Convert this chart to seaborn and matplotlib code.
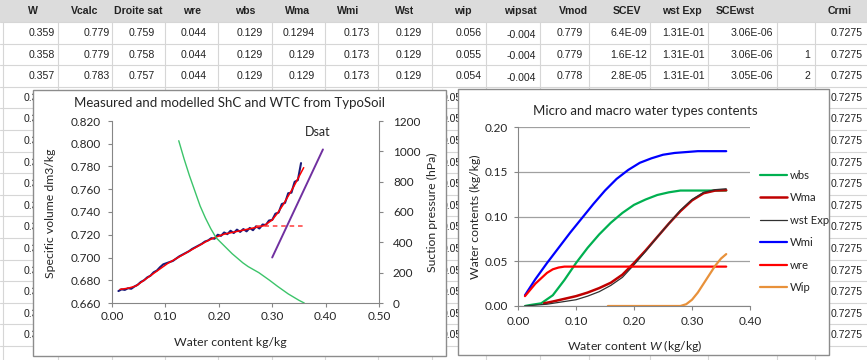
import pandas as pd
import seaborn as sns
import matplotlib.pyplot as plt
from matplotlib.patches import Rectangle
from matplotlib.ticker import FormatStrFormatter

sns.set_style('white')
plt.rcParams['font.family'] = ['Lato', 'DejaVu Sans']
plt.rcParams['mathtext.fontset'] = 'custom'
plt.rcParams['mathtext.it'] = 'Lato:italic'

# spreadsheet cells behind the charts
headers = ['W', 'Vcalc', 'Droite sat', 'wre', 'wbs', 'Wma', 'Wmi', 'Wst', 'wip',
           'wipsat', 'Vmod', 'SCEV', 'wst Exp', 'SCEwst', '', 'Crmi']
row1 = ['0.359', '0.779', '0.759', '0.044', '0.129', '0.1294', '0.173', '0.129', '0.056',
        '-0.004', '0.779', '6.4E-09', '1.31E-01', '3.06E-06', '', '0.7275']
row2 = ['0.358', '0.779', '0.758', '0.044', '0.129', '0.129', '0.173', '0.129', '0.055',
        '-0.004', '0.779', '1.6E-12', '1.31E-01', '3.06E-06', '1', '0.7275']
row3 = ['0.357', '0.783', '0.757', '0.044', '0.129', '0.129', '0.173', '0.129', '0.054',
        '-0.004', '0.778', '2.8E-05', '1.31E-01', '3.05E-06', '2', '0.7275']
crmi = '0.7275'

# chart 1: measured / modelled shrinkage curve, suction, saturation line
w_meas = [0.012, 0.018, 0.024, 0.030, 0.036, 0.042, 0.048, 0.054, 0.060, 0.066,
          0.072, 0.078, 0.084, 0.090, 0.096, 0.102, 0.108, 0.114, 0.120, 0.126,
          0.132, 0.138, 0.144, 0.150, 0.156, 0.162, 0.168, 0.174, 0.180, 0.186,
          0.192, 0.198, 0.204, 0.210, 0.216, 0.222, 0.228, 0.234, 0.240, 0.246,
          0.252, 0.258, 0.264, 0.270, 0.276, 0.282, 0.288, 0.294, 0.300, 0.306,
          0.312, 0.318, 0.324, 0.330, 0.336, 0.342, 0.348, 0.354]
v_meas = [0.6705, 0.6720, 0.6715, 0.6730, 0.6725, 0.6745, 0.6760, 0.6785, 0.6800, 0.6825,
          0.6840, 0.6870, 0.6885, 0.6915, 0.6940, 0.6950, 0.6960, 0.6970, 0.6990, 0.7010,
          0.7025, 0.7040, 0.7055, 0.7075, 0.7090, 0.7105, 0.7120, 0.7140, 0.7150, 0.7170,
          0.7165, 0.7200, 0.7190, 0.7220, 0.7205, 0.7235, 0.7215, 0.7245, 0.7225, 0.7250,
          0.7230, 0.7260, 0.7240, 0.7275, 0.7255, 0.7290, 0.7285, 0.7325, 0.7330, 0.7385,
          0.7395, 0.7470, 0.7480, 0.7565, 0.7570, 0.7665, 0.7680, 0.7830]
w_mod = [0.015, 0.03, 0.045, 0.06, 0.075, 0.09, 0.105, 0.12, 0.135, 0.15, 0.165, 0.18,
         0.195, 0.21, 0.225, 0.24, 0.255, 0.27, 0.285, 0.30, 0.31, 0.32, 0.33, 0.34,
         0.35, 0.359]
v_mod = [0.672, 0.673, 0.675, 0.680, 0.685, 0.690, 0.695, 0.699, 0.703, 0.707, 0.711,
         0.715, 0.718, 0.7205, 0.722, 0.7235, 0.725, 0.7265, 0.728, 0.733, 0.739, 0.746,
         0.754, 0.762, 0.771, 0.779]
w_crmi = [0.27, 0.36]
w_suction = [0.125, 0.135, 0.145, 0.155, 0.165, 0.175, 0.185, 0.195, 0.205, 0.215,
             0.225, 0.235, 0.245, 0.255, 0.265, 0.275, 0.285, 0.295, 0.31, 0.33, 0.35,
             0.36]
h_suction = [1070, 950, 840, 740, 640, 560, 490, 430, 395, 360, 325, 295, 265, 240, 220,
             200, 175, 150, 110, 60, 18, 0]
w_dsat = [0.30, 0.395]
v_dsat = [0.700, 0.795]

# chart 2: water types
w_mi = [0.012, 0.03, 0.05, 0.07, 0.09, 0.11, 0.13, 0.15, 0.17, 0.19, 0.21, 0.23, 0.25,
        0.27, 0.29, 0.31, 0.33, 0.359]
v_mi = [0.012, 0.030, 0.048, 0.065, 0.082, 0.098, 0.114, 0.129, 0.142, 0.152, 0.160,
        0.165, 0.169, 0.171, 0.172, 0.173, 0.173, 0.173]
w_bs = [0.012, 0.02, 0.04, 0.06, 0.08, 0.10, 0.12, 0.14, 0.16, 0.18, 0.20, 0.22, 0.24,
        0.26, 0.28, 0.30, 0.359]
v_bs = [0.0, 0.001, 0.003, 0.012, 0.029, 0.048, 0.065, 0.080, 0.093, 0.104, 0.113,
        0.119, 0.124, 0.127, 0.129, 0.129, 0.129]
w_ma = [0.045, 0.06, 0.08, 0.10, 0.12, 0.14, 0.16, 0.18, 0.20, 0.22, 0.24, 0.26, 0.28,
        0.30, 0.32, 0.34, 0.359]
v_ma = [0.003, 0.005, 0.008, 0.011, 0.015, 0.020, 0.026, 0.035, 0.048, 0.062, 0.077,
        0.092, 0.106, 0.118, 0.126, 0.129, 0.1294]
w_st = [0.012, 0.03, 0.05, 0.08, 0.10, 0.12, 0.14, 0.16, 0.18, 0.20, 0.22, 0.24, 0.26,
        0.28, 0.30, 0.32, 0.34, 0.359]
v_st = [0.0, 0.001, 0.002, 0.005, 0.007, 0.011, 0.016, 0.023, 0.032, 0.046, 0.061,
        0.077, 0.092, 0.107, 0.119, 0.127, 0.130, 0.131]
w_re = [0.012, 0.03, 0.05, 0.06, 0.07, 0.08, 0.10, 0.359]
v_re = [0.011, 0.025, 0.037, 0.041, 0.043, 0.044, 0.044, 0.044]
w_ip = [0.155, 0.26, 0.28, 0.29, 0.30, 0.31, 0.32, 0.33, 0.34, 0.35, 0.359]
v_ip = [0.0, 0.0, 0.0, 0.002, 0.007, 0.015, 0.025, 0.035, 0.045, 0.053, 0.058]

fig = plt.figure(figsize=(8.67, 3.6), dpi=100)

# ---- background sheet (pixel coordinates)
bg = fig.add_axes([0, 0, 1, 1])
bg.set_xlim(0, 867)
bg.set_ylim(360, 0)
bg.axis('off')
bg.add_patch(Rectangle((0, 0), 867, 22, fc='#dcdcdc', ec='none'))
col_edges = [3, 58, 112, 165, 218, 272, 325, 378, 432, 486, 540, 589, 650, 708, 777, 815]
head_x = [33, 85, 138, 192, 245, 298, 348, 405, 463, 520, 573, 627, 682, 735, 796, 840]
val_x = [55, 110, 155, 207, 263, 315, 370, 422, 482, 536, 583, 647, 705, 773, 810, 863]
for k in range(16):
    y = 22 + 21.6 * k
    bg.plot([0, 867], [y, y], color='#d6d6d6', lw=0.8)
for x in col_edges:
    bg.plot([x, x], [22, 360], color='#d6d6d6', lw=0.8)
tf = dict(family='Liberation Sans', fontsize=7.6, color='#222222', va='center')
for j, h in enumerate(headers):
    bg.text(head_x[j], 11, h, ha='center', fontweight='bold', **tf)
for r, row in enumerate([row1, row2, row3]):
    y = 33 + 21.6 * r
    for j, val in enumerate(row):
        dy = 1.5 if val.startswith('-') else 0
        bg.text(val_x[j], y + dy, val, ha='right', **tf)
for r in range(3, 15):
    y = 33 + 21.6 * r
    bg.text(24, y, '0.35', ha='left', **tf)
    bg.text(442, y, '0.05', ha='left', **tf)
    bg.text(863, y, crmi, ha='right', **tf)

# chart frames
bg.add_patch(Rectangle((33, 90), 413, 266, fc='white', ec='#8c8c8c', lw=1, zorder=5))
bg.add_patch(Rectangle((458, 89), 371, 266, fc='white', ec='#8c8c8c', lw=1, zorder=5))

gray = '#868686'
txt = '#262626'

# ---- left chart
axL = fig.add_axes([112 / 867, 57 / 360, 267 / 867, 182 / 360])
axL.patch.set_alpha(0)
sns.lineplot(x=w_meas, y=v_meas, ax=axL, color='#1c1c7a', lw=1.5, sort=False)
sns.lineplot(x=w_mod, y=v_mod, ax=axL, color='#ff0000', lw=1.1, sort=False)
sns.lineplot(x=w_crmi, y=[float(crmi)] * 2, ax=axL, color='#ff3b3b', lw=1.1,
             dashes=False, linestyle=(0, (3, 2.5)))
sns.lineplot(x=w_dsat, y=v_dsat, ax=axL, color='#7030a0', lw=1.4)
axL.text(0.386, 0.8105, 'Dsat', ha='center', va='center', fontsize=9, color=txt)
axL.set_xlim(0, 0.5)
axL.set_ylim(0.66, 0.82)
axL.set_xticks([0, 0.1, 0.2, 0.3, 0.4, 0.5])
axL.set_yticks([0.66, 0.68, 0.70, 0.72, 0.74, 0.76, 0.78, 0.80, 0.82])
axL.xaxis.set_major_formatter(FormatStrFormatter('%.2f'))
axL.yaxis.set_major_formatter(FormatStrFormatter('%.3f'))
for s in ['top', 'right']:
    axL.spines[s].set_visible(False)
for s in ['left', 'bottom']:
    axL.spines[s].set_color(gray)
axL.tick_params(axis='both', bottom=True, left=True, direction='out', length=3,
                width=0.8, color=gray, labelsize=8.5, labelcolor=txt)
axL.tick_params(axis='x', pad=3)
axL.tick_params(axis='y', pad=5)

axS = axL.twinx()
sns.lineplot(x=w_suction, y=h_suction, ax=axS, color='#3cc46a', lw=1.0, sort=False)
axS.set_ylim(0, 1200)
axS.set_yticks([0, 200, 400, 600, 800, 1000, 1200])
for s in ['top', 'left', 'bottom']:
    axS.spines[s].set_visible(False)
axS.spines['right'].set_color(gray)
axS.tick_params(axis='y', right=True, direction='out', length=3, width=0.8, color=gray,
                labelsize=8.5, labelcolor=txt, pad=7)
axS.set_ylabel('')

fig.text(230 / 867, 1 - 103 / 360, 'Measured and modelled ShC and WTC from TypoSoil',
         ha='center', va='center', fontsize=9.5, color=txt)
fig.text(230 / 867, 1 - 343 / 360, 'Water content kg/kg', ha='center', va='center',
         fontsize=8.8, color=txt)
fig.text(51 / 867, 1 - 213 / 360, 'Specific volume dm3/kg', ha='center', va='center',
         rotation=90, fontsize=8.8, color=txt)
fig.text(432 / 867, 1 - 212 / 360, 'Suction pressure (hPa)', ha='center', va='center',
         rotation=90, fontsize=8.8, color=txt)

# ---- right chart
axM = fig.add_axes([518 / 867, 54 / 360, 232 / 867, 179 / 360])
axM.patch.set_alpha(0)
sns.lineplot(x=w_bs, y=v_bs, ax=axM, color='#00b050', lw=1.6, label='wbs')
sns.lineplot(x=w_ma, y=v_ma, ax=axM, color='#c00000', lw=1.8, label='Wma')
sns.lineplot(x=w_st, y=v_st, ax=axM, color='#303030', lw=0.9, label='wst Exp')
sns.lineplot(x=w_mi, y=v_mi, ax=axM, color='#0000ff', lw=1.6, label='Wmi')
sns.lineplot(x=w_re, y=v_re, ax=axM, color='#ff0000', lw=1.6, label='wre')
sns.lineplot(x=w_ip, y=v_ip, ax=axM, color='#e8913a', lw=1.6, label='Wip')
axM.set_xlim(0, 0.4)
axM.set_ylim(0, 0.2)
axM.set_xticks([0, 0.1, 0.2, 0.3, 0.4])
axM.set_yticks([0, 0.05, 0.10, 0.15, 0.20])
axM.xaxis.set_major_formatter(FormatStrFormatter('%.2f'))
axM.yaxis.set_major_formatter(FormatStrFormatter('%.2f'))
axM.yaxis.grid(True, color='#a0a0a0', lw=0.9)
axM.set_axisbelow(True)
for s in ['top', 'right']:
    axM.spines[s].set_visible(False)
for s in ['left', 'bottom']:
    axM.spines[s].set_color(gray)
axM.tick_params(axis='both', bottom=True, left=True, direction='out', length=3,
                width=0.8, color=gray, labelsize=8.5, labelcolor=txt)
axM.tick_params(axis='x', pad=4)
axM.tick_params(axis='y', pad=4)

handles, labels = axM.get_legend_handles_labels()
axM.legend(handles, labels, loc='upper left', bbox_to_anchor=(760 / 867, 1 - 170 / 360),
           bbox_transform=fig.transFigure, frameon=False, fontsize=8.2, handlelength=2.4,
           handletextpad=0.25, labelspacing=1.0, borderpad=0, borderaxespad=0,
           labelcolor=txt)

fig.text(645 / 867, 1 - 111 / 360, 'Micro and macro water types contents', ha='center',
         va='center', fontsize=9.5, color=txt)
fig.text(635 / 867, 1 - 346 / 360, 'Water content $W$ (kg/kg)', ha='center',
         va='center', fontsize=8.8, color=txt)
fig.text(475 / 867, 1 - 217 / 360, 'Water contents (kg/kg)', ha='center', va='center',
         rotation=90, fontsize=8.8, color=txt)

fig.savefig('out.png', dpi=100)
